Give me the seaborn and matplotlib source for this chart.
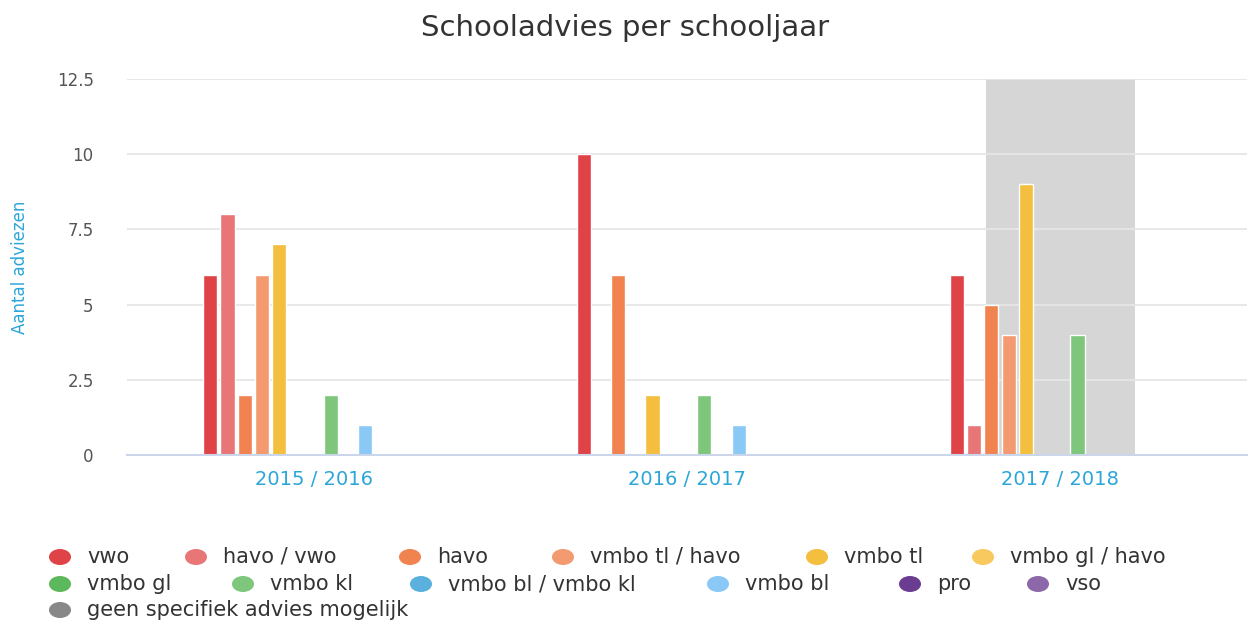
"""
Schooladvies per schooljaar - grouped bar chart
"""

import pandas as pd
import matplotlib
matplotlib.use("Agg")
import matplotlib.pyplot as plt
from matplotlib.patches import Ellipse
import seaborn as sns

# ── Data ──────────────────────────────────────────────────────────────────────
SCHOOLJAREN = ["2015 / 2016", "2016 / 2017", "2017 / 2018"]

ADVIEZEN = [
    "vwo", "havo / vwo", "havo", "vmbo tl / havo", "vmbo tl",
    "vmbo gl / havo", "vmbo gl", "vmbo kl", "vmbo bl / vmbo kl",
    "vmbo bl", "pro", "vso", "geen specifiek advies mogelijk",
]

AANTAL_2015 = [6, 8, 2, 6, 7, 0, 0, 2, 0, 1, 0, 0, 0]
AANTAL_2016 = [10, 0, 6, 0, 2, 0, 0, 2, 0, 1, 0, 0, 0]
AANTAL_2017 = [6, 1, 5, 4, 9, 0, 0, 4, 0, 0, 0, 0, 0]

KLEUREN = [
    "#e04347", "#e87677", "#f08350", "#f49a70", "#f4be3e",
    "#f7c95e", "#5cb85c", "#7dc67b", "#5ab1de", "#8ac9f6",
    "#6a3d91", "#8c68a8", "#888888",
]

Y_TICKS = [0, 2.5, 5, 7.5, 10, 12.5]
Y_TICK_LABELS = ["0", "2.5", "5", "7.5", "10", "12.5"]

# legend layout (pixel positions of each item, flow layout like the original)
LEGEND_X = [60, 196, 410, 563, 817, 983, 60, 243, 421, 718, 910, 1038, 60]
LEGEND_ROW = [0, 0, 0, 0, 0, 0, 1, 1, 1, 1, 1, 1, 2]

BLUE = "#2ba6d9"
AXIS = "#ccd6eb"


def main():
    rows = []
    for jaar, waarden in zip(SCHOOLJAREN, [AANTAL_2015, AANTAL_2016, AANTAL_2017]):
        for advies, n in zip(ADVIEZEN, waarden):
            rows.append({"jaar": jaar, "advies": advies, "aantal": n})
    df = pd.DataFrame(rows)

    sns.set_style("white")
    plt.rcParams["font.family"] = ["DejaVu Sans"]

    W, H = 1250, 621
    fig = plt.figure(figsize=(W / 100, H / 100), dpi=100)
    ax = fig.add_axes([127 / W, 1 - 455 / H, 1120 / W, 376 / H])
    ax.set_axisbelow(True)

    # highlighted band behind last category
    ax.axvspan(1.8, 2.2, color="#d6d6d6", zorder=0.1, lw=0)

    sns.barplot(
        data=df, x="jaar", y="aantal", hue="advies",
        order=SCHOOLJAREN, hue_order=ADVIEZEN, palette=KLEUREN,
        saturation=1, width=0.6, gap=0.18, edgecolor="white", linewidth=1,
        legend=False, ax=ax, zorder=2,
    )

    ax.set_xlim(-0.5, 2.5)
    ax.set_ylim(0, 12.5)
    ax.set_yticks(Y_TICKS)
    ax.set_yticklabels(Y_TICK_LABELS)
    ax.tick_params(axis="y", length=0, pad=24, labelsize=12, labelcolor="#555555")
    ax.grid(axis="y", color="#e6e6e6", lw=1.3)
    for gl in ax.get_ygridlines():
        gl.set_zorder(0.5)

    ax.set_xticks(range(len(SCHOOLJAREN)))
    ax.set_xticklabels(SCHOOLJAREN)
    ax.tick_params(axis="x", length=0, pad=11, labelsize=14, labelcolor=BLUE)
    ax.set_xticks([-0.5, 0.5, 1.5, 2.5], minor=True)
    ax.tick_params(axis="x", which="minor", length=11, width=1.5, color=AXIS)

    for side in ["top", "right", "left"]:
        ax.spines[side].set_visible(False)
    ax.spines["bottom"].set_color(AXIS)
    ax.spines["bottom"].set_linewidth(1.5)
    ax.spines["bottom"].set_zorder(3)

    ax.set_xlabel("")
    ax.set_ylabel("Aantal adviezen", color=BLUE, fontsize=12, labelpad=0)
    ax.yaxis.set_label_coords(-98 / 1120, 0.5)

    fig.text(0.5, 1 - 28 / H, "Schooladvies per schooljaar",
             ha="center", va="center", fontsize=21, color="#333333")

    # ── Legend (flow layout) ─────────────────────────────────────────────────
    lax = fig.add_axes([0, 0, 1, 1], zorder=-1)
    lax.set_xlim(0, W)
    lax.set_ylim(H, 0)
    lax.axis("off")
    row_y = [557, 584, 610]
    for advies, kleur, x, r in zip(ADVIEZEN, KLEUREN, LEGEND_X, LEGEND_ROW):
        y = row_y[r]
        lax.add_patch(Ellipse((x, y), 22, 16, color=kleur, lw=0))
        lax.text(x + 27, y, advies, ha="left", va="center",
                 fontsize=15, color="#333333")

    fig.savefig("out.png", dpi=100)


if __name__ == "__main__":
    main()
